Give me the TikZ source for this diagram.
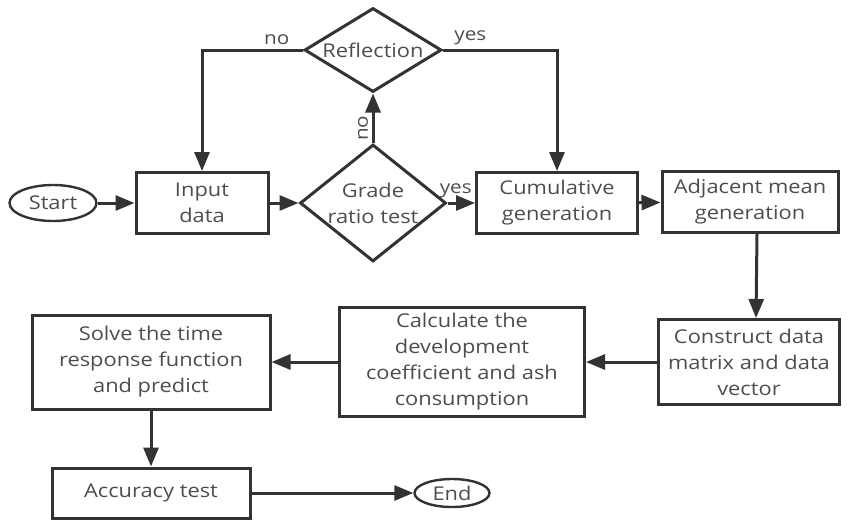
\documentclass[tikz,border=0pt]{standalone}
\usepackage{fontspec}
\setmainfont{Open Sans}[FakeStretch=1.15]
\usetikzlibrary{shapes.geometric,arrows.meta}
\definecolor{linegray}{HTML}{333333}
\definecolor{textgray}{HTML}{4D4D4D}
\begin{document}
\begin{tikzpicture}[x=1pt,y=-1pt,
    every node/.style={font=\fontsize{19}{26}\selectfont,text=textgray},
    process/.style={draw=linegray,line width=3pt,align=center,inner sep=0pt},
    decision/.style={draw=linegray,line width=3pt,diamond,align=center,inner sep=-16pt},
    terminal/.style={draw=linegray,line width=2.4pt,ellipse,inner sep=0pt},
    flow/.style={draw=linegray,line width=3pt,-{Triangle[length=19pt,width=15pt]}},
    lbl/.style={font=\fontsize{18}{22}\selectfont}]
  \useasboundingbox (0,0) rectangle (848,520);
  % top row
  \node[terminal,minimum width=87pt,minimum height=36pt] (start) at (53,203) {Start};
  \node[process,minimum width=132pt,minimum height=61pt] (input) at (202,203) {Input\\data};
  \node[decision,minimum width=146pt,minimum height=117pt] (grade) at (373,203) {Grade\\ratio test};
  \node[decision,minimum width=137pt,minimum height=84pt] (refl) at (373,50) {Reflection};
  \node[process,minimum width=161pt,minimum height=61pt] (cumul) at (557,203) {Cumulative\\generation};
  \node[process,minimum width=176pt,minimum height=61pt] (adjac) at (750,202) {Adjacent mean\\generation};
  % middle row
  \node[process,minimum width=181pt,minimum height=85pt] (constr) at (749,362) {Construct data\\matrix and data\\vector};
  \node[process,minimum width=245pt,minimum height=109pt] (calc) at (462,362) {Calculate the\\development\\coefficient and ash\\consumption};
  \node[process,minimum width=238pt,minimum height=94pt] (solve) at (151,362) {Solve the time\\response function\\and predict};
  % bottom row
  \node[process,minimum width=198pt,minimum height=50pt] (accur) at (151,493) {Accuracy test};
  \node[terminal,minimum width=75pt,minimum height=28pt] (end) at (452,493) {End};
  % connectors
  \draw[flow] (start) -- (input);
  \draw[flow] (input) -- (grade);
  \draw[flow] (grade) -- node[lbl,above,pos=0.3] {yes} (cumul);
  \draw[flow] (grade) -- node[lbl,rotate=90,anchor=south,pos=0.3] {no} (refl);
  \draw[flow] (refl) -| node[lbl,above,pos=0.13] {no} (input);
  \draw[flow] (refl) -| node[lbl,above,pos=0.12] {yes} (cumul);
  \draw[flow] (cumul) -- (adjac);
  \draw[flow] ([xshift=7pt]adjac.south) -- ([xshift=7pt]constr.north);
  \draw[flow] (constr) -- (calc);
  \draw[flow] (calc) -- (solve);
  \draw[flow] (solve) -- (accur);
  \draw[flow] (accur) -- (end);
\end{tikzpicture}
\end{document}
